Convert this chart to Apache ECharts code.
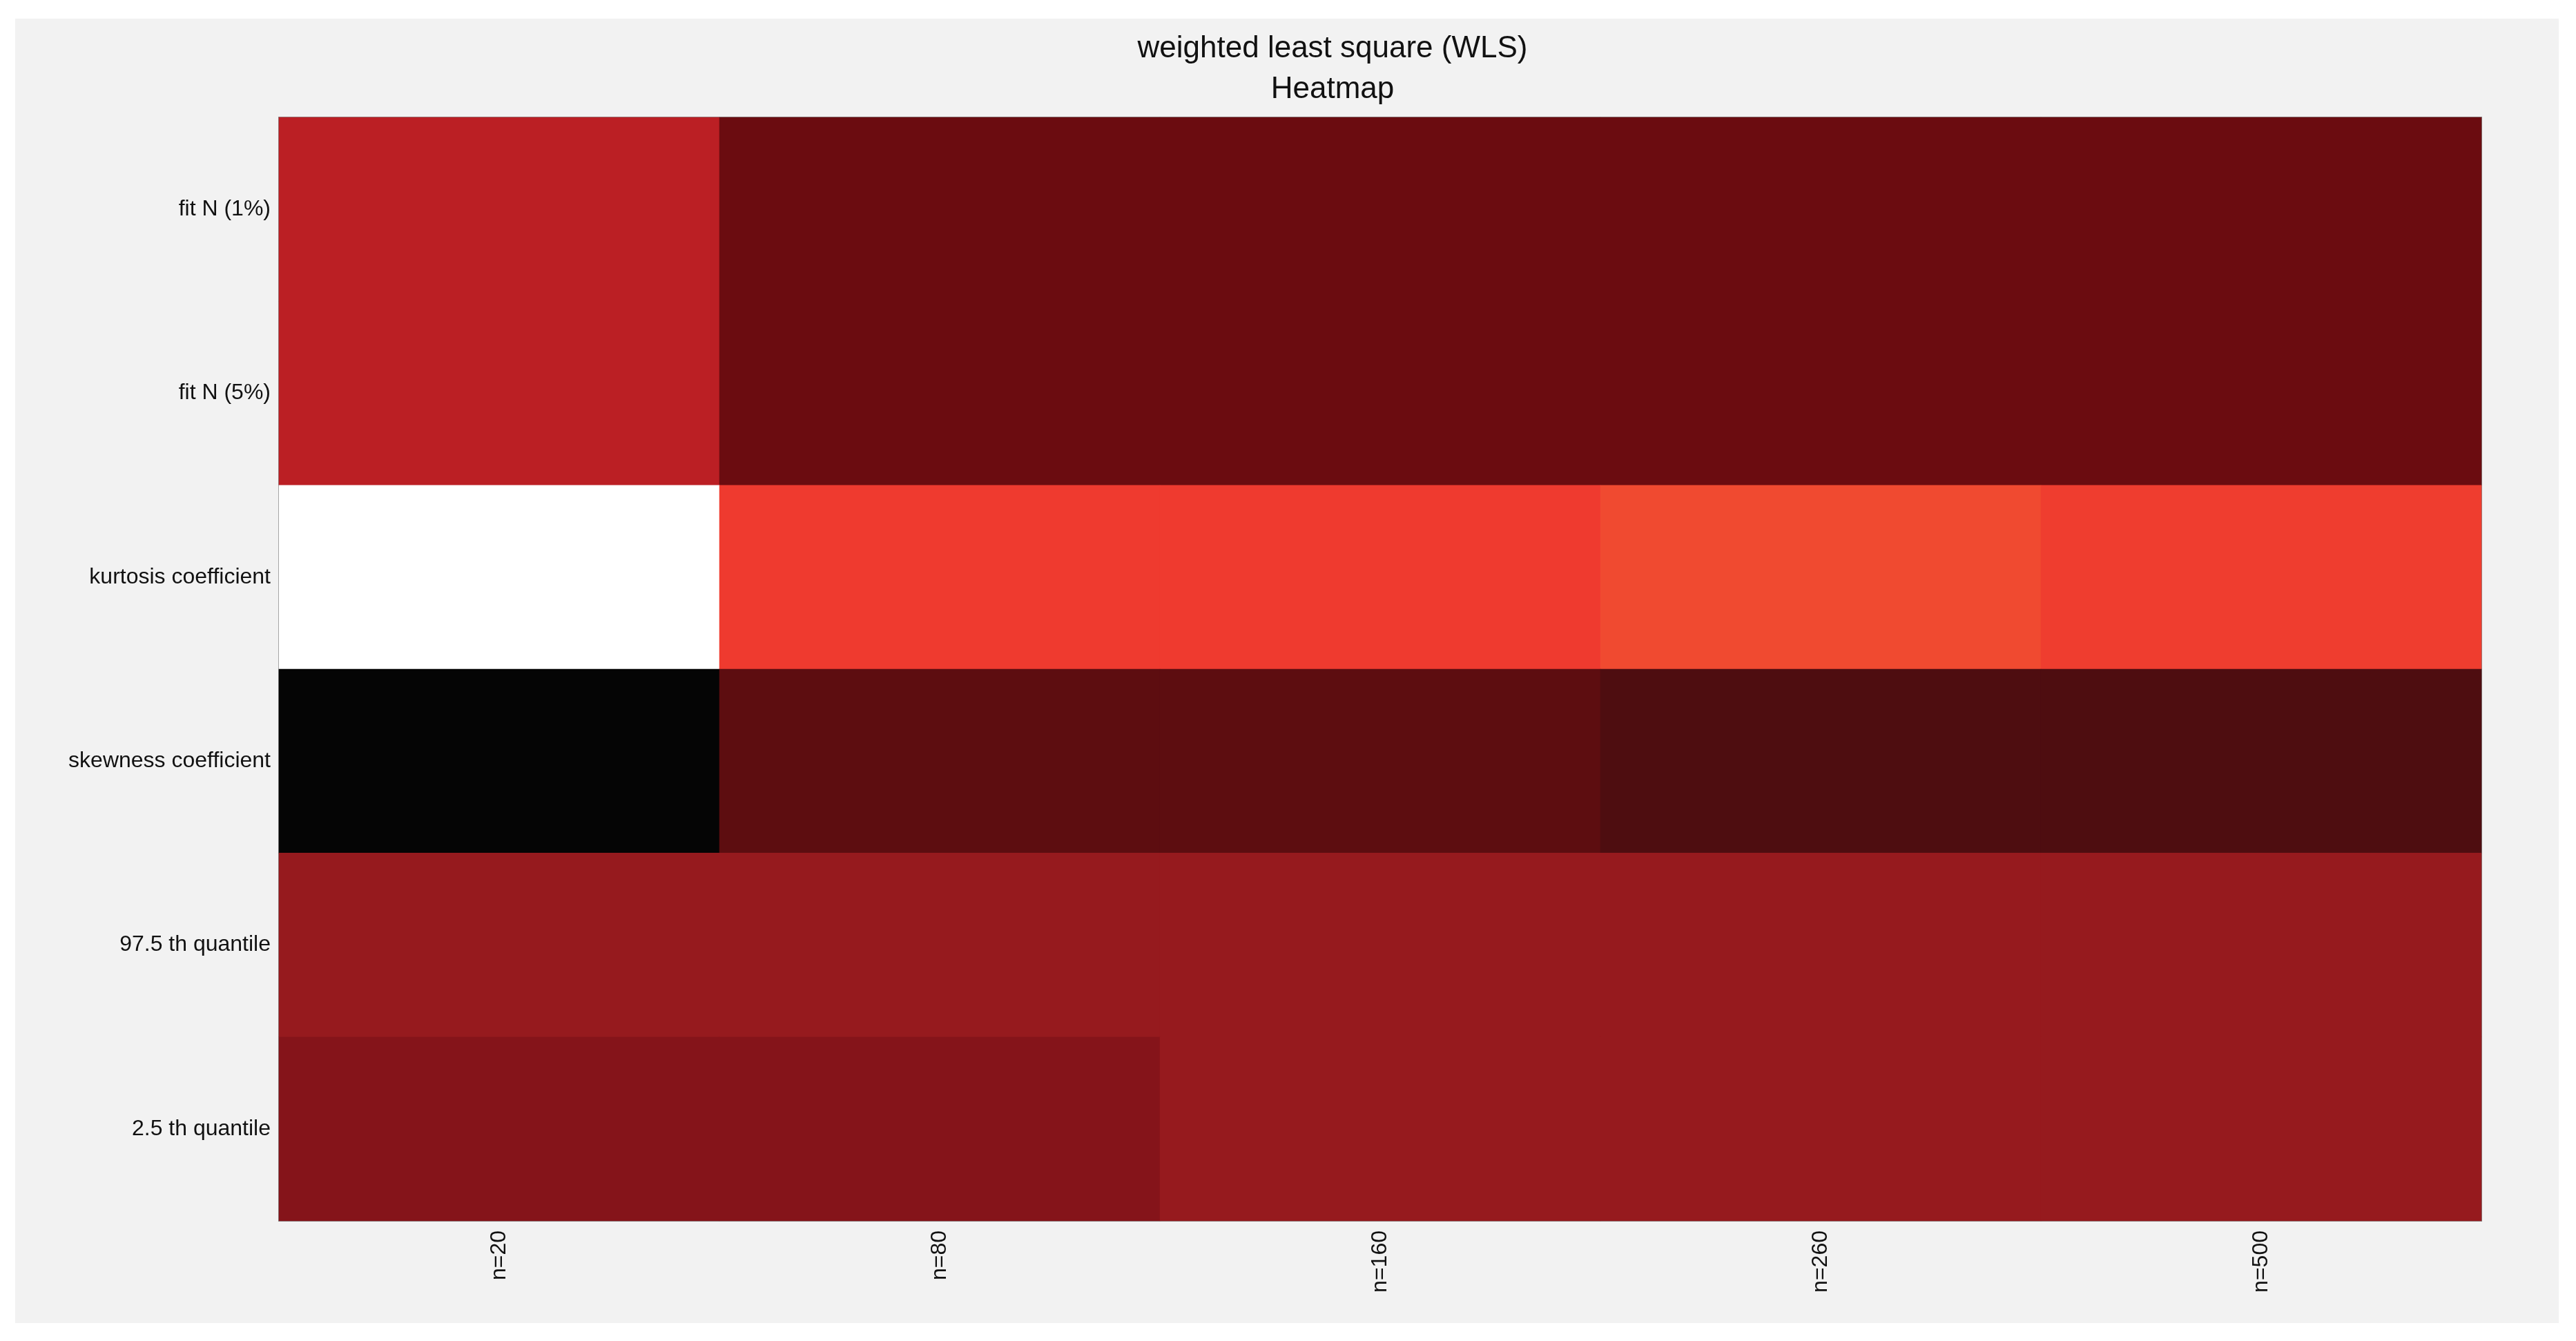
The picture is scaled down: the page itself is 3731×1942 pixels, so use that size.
<!DOCTYPE html>
<html><head><meta charset="utf-8">
<script src="https://cdn.jsdelivr.net/npm/echarts@6/dist/echarts.min.js"></script>
<style>html,body{margin:0;padding:0;background:#fff}#c{width:3731px;height:1942px}</style>
</head><body><div id="c"></div>
<script>
const xCategories = ['n=20','n=80','n=160','n=260','n=500'];
const yCategories = ['fit N (1%)','fit N (5%)','kurtosis coefficient','skewness coefficient','97.5 th quantile','2.5 th quantile'];
const fitN1 = [0.6,0.3,0.3,0.3,0.3];
const fitN5 = [0.6,0.3,0.3,0.3,0.3];
const kurtosis = [1.0,0.7,0.7,0.8,0.72];
const skewness = [0.0,0.25,0.25,0.2,0.2];
const q975 = [0.5,0.5,0.5,0.5,0.5];
const q025 = [0.4,0.4,0.5,0.5,0.5];
const rows = [fitN1,fitN5,kurtosis,skewness,q975,q025];
const data = [];
rows.forEach((r,yi)=>r.forEach((v,xi)=>data.push([xi,yi,v])));
const chart = echarts.init(document.getElementById('c'));
chart.setOption({
  backgroundColor:'#fff',
  animation:false,
  graphic:[{type:'rect',shape:{x:22,y:27,width:3684,height:1889},style:{fill:'#f2f2f2'},z:-10}],
  title:{text:'weighted least square (WLS)\nHeatmap',left:1925,top:36,textAlign:'center',
    textStyle:{fontFamily:'Liberation Sans',fontWeight:'normal',fontSize:44,lineHeight:59,color:'#111'}},
  grid:{left:404,top:170,right:3731-3594,bottom:1942-1768,show:true,borderColor:'#888',borderWidth:2,backgroundColor:'transparent'},
  xAxis:{type:'category',data:xCategories,axisTick:{show:false},axisLine:{show:false},splitLine:{show:false},
    axisLabel:{rotate:90,fontSize:32,fontFamily:'Liberation Sans',color:'#111',margin:14}},
  yAxis:{type:'category',data:yCategories,inverse:true,axisTick:{show:false},axisLine:{show:false},splitLine:{show:false},
    axisLabel:{fontSize:32,fontFamily:'Liberation Sans',color:'#111',margin:12}},
  visualMap:{show:false,min:0,max:1,dimension:2,
    inRange:{color:['#050505','#2a0a0b','#4e0d10','#6b0c10','#85141a','#961a1e','#bb1f24','#ef3a2f','#f04a30','#f8a598','#ffffff']}},
  series:[{type:'heatmap',data:data,itemStyle:{borderWidth:0}}]
});
</script></body></html>
